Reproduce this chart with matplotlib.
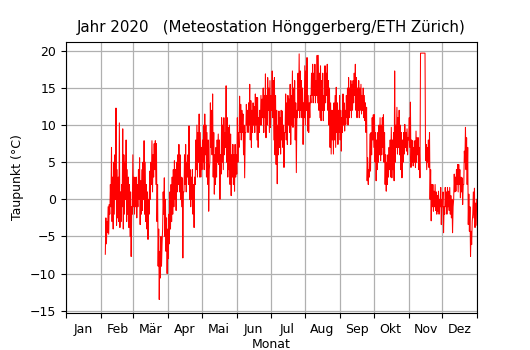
import matplotlib
matplotlib.use("Agg")
import matplotlib.pyplot as plt
import matplotlib.dates as mdates
import pandas as pd

# Taupunkt in 12-Stunden-Schritten ab 5. Februar 2020 (je Tag: tief, hoch)
start = "2020-02-05"
taupunkt = [
    -7.4, -2.5, -6.0, -3.0, -4.5, -1.0, -4.7, -0.7, -2.0, 2.0, -1.0, 7.0, -3.0, 3.0,
    -4.0, 5.0, -2.0, 6.0, 0.0, 12.3, -3.5, 4.0, -2.5, 3.0, -3.0, 10.3, -3.8, 1.0,
    -3.0, 2.0, -1.0, 9.5, -4.0, 6.0, -2.0, 5.0, 0.0, 8.0, -3.0, 4.0, -2.0, 3.0,
    -3.8, 2.0, -5.0, 1.0, -7.7, -1.0, -2.0, 6.0, -1.0, 3.0, -2.0, 2.9, -1.0, 3.0,
    -2.5, 2.0, -1.0, 4.0, 0.0, 5.6, -3.4, 2.5, -2.0, 4.0, -1.5, 5.0, 0.0, 7.9,
    -2.0, 5.0, -3.0, 2.0, -4.0, 1.0, -5.4, 0.0, -2.0, 3.8, 0.0, 5.0, 2.0, 7.9,
    1.0, 6.0, 3.0, 7.5, 4.0, 7.9, 2.0, 7.5, -3.0, 2.0, -9.0, -4.0, -13.5, -7.0,
    -10.6, -5.0, -9.0, -6.0, -4.0, 1.0, -2.0, 2.9, -5.0, 0.0, -7.0, -2.5, -10.0, -4.0,
    -8.0, -2.0, -6.0, 1.0, -4.0, 2.0, -3.0, 3.0, -2.0, 4.0, -1.0, 5.2, 0.0, 4.0,
    -1.5, 5.0, 1.0, 6.0, 2.0, 7.4, 1.0, 6.0, 0.0, 3.0, -1.0, 2.9, -7.9, 1.0,
    1.0, 6.0, 2.0, 7.4, 1.0, 5.0, 3.0, 6.0, 2.0, 9.9, 0.0, 4.0, -1.0, 3.0,
    0.0, 4.0, -2.0, 2.0, -3.8, 3.0, 2.0, 8.0, 4.0, 10.0, 3.0, 9.0, 5.0, 11.5,
    3.0, 9.0, 3.0, 7.0, 4.0, 8.0, 5.0, 10.0, 4.0, 11.5, 6.0, 10.0, 3.0, 9.0,
    2.0, 8.0, -1.6, 4.0, 5.0, 13.0, 7.0, 12.0, 6.0, 14.2, 3.0, 9.0, 0.7, 6.0,
    2.0, 7.0, 3.0, 8.0, 5.0, 8.8, 4.7, 8.0, 0.0, 6.0, 3.4, 11.0, 5.0, 10.0,
    4.0, 11.0, 6.0, 9.0, 7.0, 15.3, 5.0, 11.0, 3.0, 9.7, 4.0, 10.0, 2.0, 8.8,
    0.5, 6.0, 3.0, 7.4, 2.0, 6.0, 1.1, 7.4, 3.0, 6.0, 3.4, 11.0, 5.0, 9.0,
    7.0, 13.9, 9.0, 12.8, 8.0, 12.0, 9.0, 11.5, 6.0, 10.0, 2.9, 9.0, 9.0, 12.8,
    10.0, 12.0, 9.0, 13.0, 10.0, 15.5, 8.0, 13.3, 7.0, 12.0, 9.0, 13.0, 10.0, 12.5,
    9.0, 14.2, 10.0, 13.7, 8.0, 13.7, 7.0, 11.0, 9.0, 12.0, 10.0, 14.0, 10.0, 13.5,
    11.0, 15.0, 9.0, 14.0, 11.0, 16.9, 8.3, 14.0, 10.0, 16.4, 12.0, 15.0, 9.0, 16.0,
    9.7, 14.0, 12.0, 17.3, 11.0, 16.0, 8.0, 16.4, 6.0, 14.0, 4.7, 12.0, 2.1, 10.0,
    6.0, 11.9, 7.0, 11.0, 6.1, 12.0, 8.0, 11.9, 7.0, 10.0, 4.3, 9.0, 9.0, 14.2,
    8.0, 13.0, 7.4, 14.0, 10.0, 13.5, 9.0, 15.5, 7.4, 14.0, 10.0, 17.3, 9.7, 15.0,
    11.0, 16.0, 8.0, 13.0, 3.6, 12.0, 11.0, 17.0, 12.0, 19.6, 11.0, 17.3, 12.0, 16.0,
    11.0, 15.0, 7.4, 13.0, 11.0, 18.0, 10.0, 17.3, 12.0, 19.1, 9.2, 14.0, 9.0, 13.0,
    11.0, 14.0, 13.0, 17.0, 14.0, 18.2, 13.0, 17.0, 14.0, 18.2, 13.0, 16.0, 14.0, 19.4,
    13.0, 19.4, 12.0, 17.0, 11.0, 18.0, 10.6, 16.0, 12.0, 17.0, 10.6, 14.0, 12.0, 18.0,
    13.0, 17.0, 14.0, 18.2, 12.0, 16.0, 10.0, 15.0, 7.0, 13.0, 6.1, 12.0, 8.0, 12.0,
    6.1, 13.0, 8.0, 14.0, 7.0, 15.1, 9.0, 13.0, 7.4, 12.0, 9.0, 14.0, 8.0, 12.0,
    6.5, 11.0, 9.0, 14.2, 10.0, 13.0, 9.2, 12.0, 10.1, 14.0, 11.0, 15.0, 10.0, 16.4,
    11.0, 15.0, 12.0, 16.0, 11.0, 15.5, 12.0, 16.0, 13.0, 17.0, 14.0, 18.2, 12.0, 16.4,
    11.0, 15.0, 12.0, 16.0, 11.0, 15.0, 12.0, 15.5, 11.5, 14.0, 12.0, 15.0, 11.0, 14.0,
    10.6, 13.0, 9.0, 12.4, 2.5, 5.6, 2.0, 4.0, 3.0, 8.8, 3.8, 9.0, 6.0, 11.0,
    8.0, 11.4, 7.0, 11.4, 5.0, 9.0, 2.5, 8.0, 4.0, 9.0, 5.0, 10.0, 6.0, 11.0,
    5.2, 10.0, 6.0, 11.0, 7.0, 11.4, 5.0, 9.0, 2.0, 6.0, 1.1, 5.0, 2.0, 6.0,
    3.0, 7.0, 4.0, 8.0, 3.0, 9.7, 2.9, 8.0, 4.0, 9.0, 2.5, 17.3, 5.0, 10.0,
    7.0, 12.4, 6.1, 11.0, 7.0, 12.0, 6.0, 10.0, 4.0, 9.0, 2.9, 8.0, 5.0, 9.0,
    6.1, 10.1, 7.0, 9.0, 6.5, 9.5, 6.0, 8.3, 8.0, 11.0, 7.0, 13.1, 4.3, 8.0,
    5.0, 7.9, 4.5, 7.0, 5.0, 7.9, 4.3, 9.2, 5.0, 8.3, 6.0, 8.3, 4.0, 7.0,
    2.9, 19.7, 19.7, 19.7, 19.7, 19.7, 19.7, 19.7, 19.7, 19.7, 5.2, 7.4, 4.0, 7.0,
    5.0, 8.0, 4.3, 9.0, 0.0, 4.0, -2.9, 2.0, -1.0, 2.0, -1.6, 1.1, -1.0, 2.0,
    -1.5, 1.0, -2.0, 0.5, -1.6, 1.1, -2.0, 0.0, -1.0, 1.6, -3.4, 0.0, -1.0, 1.0,
    -4.5, -1.0, -2.0, 1.6, -1.0, 1.0, -2.0, 1.6, -1.0, 1.1, -1.5, 1.6, -2.0, 0.5,
    -2.5, 0.0, -4.5, -1.0, 0.0, 3.4, 1.0, 3.0, 1.1, 4.0, 2.0, 4.7, 1.0, 4.7,
    2.0, 4.0, 0.2, 3.0, 1.0, 2.9, -0.7, 2.0, 2.0, 6.5, 5.0, 9.7, 4.0, 8.3,
    2.0, 7.0, -3.4, 0.7, -4.3, -1.0, -7.7, -4.3, -6.1, -3.0, -2.0, 1.0, -2.5, 1.5,
    -3.8, -0.5, -3.5, 0.0,
]
monate = ["Jan", "Feb", "Mär", "Apr", "Mai", "Jun", "Jul", "Aug", "Sep", "Okt", "Nov", "Dez"]

zeit = pd.date_range(start, periods=len(taupunkt), freq="12h")

fig = plt.figure(figsize=(5.3, 3.5), dpi=100)
ax = fig.add_axes([0.1245, 0.106, 0.776, 0.774])
ax.plot(zeit, taupunkt, color="red", linewidth=0.75)

ax.set_xlim(pd.Timestamp("2020-01-01"), pd.Timestamp("2021-01-01"))
ax.set_ylim(-15.3, 21.2)
ax.set_yticks(range(-15, 21, 5))

# Monatsanfang als Haupt-Ticks, Monatsnamen in der Monatsmitte
ax.xaxis.set_major_locator(mdates.MonthLocator())
ax.xaxis.set_major_formatter(plt.NullFormatter())
ax.xaxis.set_minor_locator(mdates.MonthLocator(bymonthday=16))
ax.xaxis.set_minor_formatter(plt.FixedFormatter(monate))
ax.tick_params(axis="x", which="minor", length=0, labelsize=9, pad=7)
ax.tick_params(axis="x", which="major", length=3.5)
ax.tick_params(axis="y", labelsize=9)

ax.grid(True, which="major", color="#b0b0b0", linewidth=0.9)
ax.set_axisbelow(True)

ax.set_xlabel("Monat", fontsize=9, labelpad=2)
ax.set_ylabel("Taupunkt (°C)", fontsize=9)
ax.set_title("Jahr 2020   (Meteostation Hönggerberg/ETH Zürich)", fontsize=10.8, pad=7)

fig.savefig("out.png", dpi=100)
